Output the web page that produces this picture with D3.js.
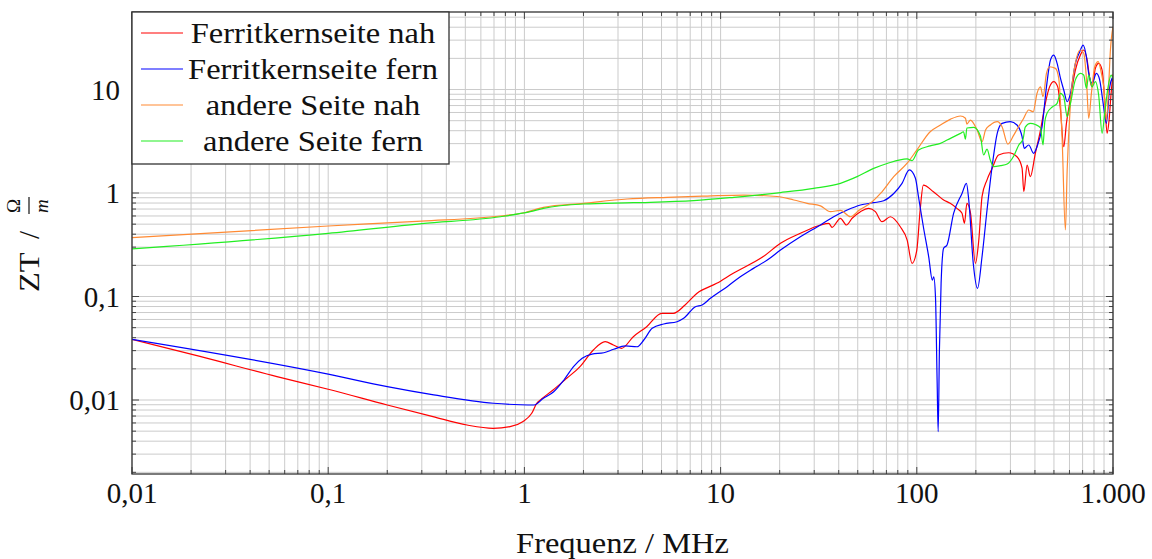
<!DOCTYPE html>
<html lang="de">
<head>
<meta charset="UTF-8">
<title>ZT über Frequenz</title>
<script src="https://d3js.org/d3.v7.min.js"></script>
<style>
  body { margin: 0; background: #fff; }
  svg { display: block; font-family: "Liberation Serif", "Times New Roman", serif; }
  .grid line { stroke: #cbcbcb; stroke-width: 1; }
  .tick-mark { stroke: #444; stroke-width: 1; }
  .curve { fill: none; stroke-width: 1.2; stroke-linejoin: round; }
</style>
</head>
<body>
<svg id="chart" width="1152" height="559"></svg>
<script>
// Frequenz in MHz, ZT in Ohm/m
const ferritNahF = [0.01, 0.0222, 0.0548, 0.1, 0.2, 0.342, 0.51, 0.692, 0.845, 0.98, 1.09, 1.156, 1.19, 1.40, 1.643, 1.92, 2.245, 2.58, 2.84, 3.13, 3.59, 4.2, 5.01, 5.74, 6.59, 7.56, 9.55, 11.6, 16.5, 20.2, 25.5, 32.3, 35.6, 37.0, 40.8, 43.8, 46.8, 51.6, 56.9, 61.5, 66.5, 73.3, 82.4, 89.3, 94.6, 100, 104, 108, 121.5, 137, 148, 160, 170, 175, 180, 187.5, 199, 207, 215, 228, 242, 261, 294, 324, 344, 351, 365, 379, 402, 427, 452, 475, 499, 523, 540, 561, 579, 601, 643, 682, 709, 738, 761, 782, 813, 845, 880, 907, 933, 955, 978, 1000];
const ferritNahZ = [0.0386, 0.0264, 0.0168, 0.0127, 0.00895, 0.0069, 0.00573, 0.00533, 0.00552, 0.00617, 0.00744, 0.00929, 0.0098, 0.0125, 0.0162, 0.021, 0.0304, 0.0366, 0.034, 0.0316, 0.0409, 0.0511, 0.0688, 0.0688, 0.0828, 0.107, 0.134, 0.168, 0.243, 0.327, 0.408, 0.491, 0.509, 0.466, 0.57, 0.491, 0.57, 0.66, 0.711, 0.66, 0.528, 0.59, 0.472, 0.351, 0.209, 0.281, 0.685, 1.19, 1.03, 0.856, 0.795, 0.711, 0.637, 0.51, 0.795, 0.655, 0.209, 0.351, 0.921, 1.34, 1.73, 2.33, 2.45, 2.24, 1.74, 1.03, 1.86, 1.44, 2.42, 4.06, 7.36, 10.6, 11.9, 10.6, 6.34, 2.8, 4.71, 7.36, 15.4, 21.5, 24.1, 19.3, 12.8, 10.6, 16.0, 17.9, 15.4, 7.92, 3.77, 5.07, 9.19, 14];

const ferritFernF = [0.01, 0.1, 0.2, 0.345, 0.695, 0.955, 1.12, 1.25, 1.41, 1.59, 1.78, 1.97, 2.21, 2.54, 2.85, 3.27, 3.75, 4.06, 4.48, 5.13, 6.0, 6.48, 7.44, 8.05, 8.87, 10.8, 12.6, 14.7, 17.3, 20.2, 25.5, 32.3, 37.7, 44.2, 51.6, 60.3, 67.8, 76.3, 84.1, 91.6, 98.4, 102, 108, 115, 120, 122, 124.5, 127, 128.5, 130.4, 133, 137, 142.6, 154, 170, 179, 184, 194, 204, 215, 228, 242, 257, 272, 300, 324, 344, 353, 372, 394, 410, 435, 458, 480, 499, 519, 540, 561, 584, 607, 643, 677, 704, 732, 752, 782, 823, 855, 891, 925, 962, 1000];
const ferritFernZ = [0.0386, 0.0178, 0.01345, 0.0112, 0.0093, 0.0090, 0.00895, 0.01038, 0.0120, 0.0156, 0.021, 0.0253, 0.0278, 0.0286, 0.0309, 0.0333, 0.0327, 0.038, 0.0493, 0.0543, 0.0571, 0.0616, 0.0797, 0.0828, 0.096, 0.1245, 0.1555, 0.187, 0.225, 0.281, 0.378, 0.491, 0.59, 0.685, 0.766, 0.806, 0.843, 0.99, 1.24, 1.67, 1.39, 0.92, 0.472, 0.242, 0.144, 0.155, 0.0995, 0.0145, 0.00494, 0.0304, 0.134, 0.292, 0.315, 0.637, 0.99, 1.24, 0.856, 0.209, 0.12, 0.242, 0.685, 1.8, 3.77, 4.71, 4.89, 4.54, 3.5, 2.7, 2.91, 2.42, 2.8, 4.37, 10.6, 19.3, 21.5, 17.9, 12.8, 9.89, 7.62, 9.19, 17.9, 23.2, 26.9, 20.7, 14.3, 11.5, 14.3, 12.4, 7.36, 4.71, 10.6, 13.3];

const andereNahF = [0.01, 0.1, 0.3, 0.755, 1.0, 1.25, 2.0, 3.34, 5.34, 8.53, 13.1, 19.4, 23.6, 27.6, 32.3, 36.3, 40.8, 45.9, 51, 58, 65.3, 76.3, 89.3, 100, 117, 132, 148, 167, 177, 180, 187.5, 203, 215, 224, 237, 257, 272, 291, 312, 330, 349, 372, 392, 410, 427, 440, 458, 475, 509, 529, 550, 572, 584, 607, 643, 682, 709, 732, 752, 776, 807, 840, 873, 897, 925, 950, 970, 1000];
const andereNahZ = [0.37, 0.48, 0.536, 0.6, 0.645, 0.727, 0.795, 0.875, 0.909, 0.935, 0.956, 0.925, 0.856, 0.795, 0.752, 0.66, 0.68, 0.59, 0.685, 0.795, 0.99, 1.44, 1.94, 2.6, 3.91, 4.54, 5.15, 5.55, 5.27, 4.64, 5.07, 4.06, 3.13, 4.06, 4.54, 4.89, 4.37, 2.97, 3.63, 4.37, 5.19, 6.34, 6.1, 9.19, 10.6, 8.52, 14.3, 16.6, 16.0, 12.8, 3.5, 0.44, 1.67, 7.36, 17.9, 24.1, 22.4, 12.8, 5.27, 9.19, 16.6, 18.6, 14.3, 10.6, 5.07, 10.6, 24.1, 40.4];

const andereFernF = [0.01, 0.1, 0.3, 0.755, 1.07, 1.25, 2.0, 3.59, 7.29, 11.7, 20.2, 29.8, 40.8, 49.6, 60.3, 70.6, 89.3, 94.6, 102, 117, 132, 142.6, 167, 173, 177, 180, 195, 211, 219, 228, 237, 247, 267, 289, 312, 331, 348, 357, 379, 402, 427, 440, 449, 461, 490, 519, 540, 561, 584, 607, 643, 682, 709, 732, 752, 782, 813, 845, 880, 907, 944, 978, 1000];
const andereFernZ = [0.288, 0.408, 0.507, 0.59, 0.66, 0.711, 0.783, 0.806, 0.843, 0.909, 1.01, 1.11, 1.24, 1.44, 1.73, 1.93, 2.14, 2.06, 2.6, 2.85, 3.02, 3.25, 3.77, 3.91, 3.32, 4.25, 4.3, 3.55, 2.33, 2.66, 2.08, 1.8, 1.84, 1.91, 2.28, 2.91, 3.32, 4.34, 4.71, 4.59, 4.25, 2.91, 4.85, 5.89, 6.78, 7.36, 9.19, 8.52, 5.46, 7.36, 12.4, 14.3, 13.8, 10.3, 13.8, 10.6, 11.9, 8.85, 3.77, 5.89, 10.6, 13.8, 12.8];

const seriesNames = ["Ferritkernseite nah", "Ferritkernseite fern", "andere Seite nah", "andere Seite fern"];
const xTickValues = [0.01, 0.1, 1, 10, 100, 1000];
const xTickLabels = ["0,01", "0,1", "1", "10", "100", "1.000"];
const yTickValues = [0.01, 0.1, 1, 10];
const yTickLabels = ["0,01", "0,1", "1", "10"];

const seriesColors = ["#ff0000", "#0000ff", "#ff8a33", "#22ee22"];

const svg = d3.select("#chart");
const plot = { left: 132, right: 1113, top: 12, bottom: 474 };

const x = d3.scaleLog().domain([0.01, 1000]).range([plot.left, plot.right]);
const y = d3.scaleLog().domain([Math.pow(10, -2.715), Math.pow(10, 1.749)]).range([plot.bottom, plot.top]);

// Unterteilungen je Dekade
function logSteps(scale) {
  const [a, b] = scale.domain();
  const out = [];
  for (let e = Math.floor(Math.log10(a)); e <= Math.ceil(Math.log10(b)); e++) {
    for (let m = 1; m < 10; m++) {
      const v = m * Math.pow(10, e);
      if (v >= a * 0.9999 && v <= b * 1.0001) out.push({ v: v, major: m === 1 });
    }
  }
  return out;
}
const xSteps = logSteps(x);
const ySteps = logSteps(y);

// Gitter
const grid = svg.append("g").attr("class", "grid");
grid.selectAll(".gx").data(xSteps).enter().append("line")
  .attr("x1", d => x(d.v)).attr("x2", d => x(d.v))
  .attr("y1", plot.top).attr("y2", plot.bottom);
grid.selectAll(".gy").data(ySteps).enter().append("line")
  .attr("y1", d => y(d.v)).attr("y2", d => y(d.v))
  .attr("x1", plot.left).attr("x2", plot.right);

// Kurven
svg.append("clipPath").attr("id", "clip").append("rect")
  .attr("x", plot.left).attr("y", plot.top)
  .attr("width", plot.right - plot.left).attr("height", plot.bottom - plot.top);

const allSeries = [
  ferritNahF.map((f, i) => [f, ferritNahZ[i]]),
  ferritFernF.map((f, i) => [f, ferritFernZ[i]]),
  andereNahF.map((f, i) => [f, andereNahZ[i]]),
  andereFernF.map((f, i) => [f, andereFernZ[i]])
];

const line = d3.line().x(d => x(d[0])).y(d => y(d[1])).curve(d3.curveMonotoneX);

svg.append("g").attr("clip-path", "url(#clip)")
  .selectAll("path").data(allSeries).enter().append("path")
  .attr("class", "curve")
  .attr("stroke", (d, i) => seriesColors[i])
  .attr("d", line);

// Teilstriche innen an allen vier Seiten
const ticks = svg.append("g");
xSteps.forEach(d => {
  const len = d.major ? 7 : 4;
  ticks.append("line").attr("class", "tick-mark")
    .attr("x1", x(d.v)).attr("x2", x(d.v)).attr("y1", plot.bottom).attr("y2", plot.bottom - len);
  ticks.append("line").attr("class", "tick-mark")
    .attr("x1", x(d.v)).attr("x2", x(d.v)).attr("y1", plot.top).attr("y2", plot.top + len);
});
ySteps.forEach(d => {
  const len = d.major ? 7 : 4;
  ticks.append("line").attr("class", "tick-mark")
    .attr("y1", y(d.v)).attr("y2", y(d.v)).attr("x1", plot.left).attr("x2", plot.left + len);
  ticks.append("line").attr("class", "tick-mark")
    .attr("y1", y(d.v)).attr("y2", y(d.v)).attr("x1", plot.right).attr("x2", plot.right - len);
});

// Rahmen
svg.append("rect")
  .attr("x", plot.left).attr("y", plot.top)
  .attr("width", plot.right - plot.left).attr("height", plot.bottom - plot.top)
  .attr("fill", "none").attr("stroke", "#333").attr("stroke-width", 1.3);

// Beschriftung der Achsen
svg.selectAll(".xl").data(xTickValues).enter().append("text")
  .attr("x", d => x(d)).attr("y", plot.bottom + 29)
  .attr("text-anchor", "middle").attr("font-size", 29).attr("fill", "#111")
  .text((d, i) => xTickLabels[i]);

svg.selectAll(".yl").data(yTickValues).enter().append("text")
  .attr("x", plot.left - 12).attr("y", d => y(d) + 10)
  .attr("text-anchor", "end").attr("font-size", 29).attr("fill", "#111")
  .text((d, i) => yTickLabels[i]);

// breitere Schrift nachbilden
function widen(sel) {
  sel.each(function () {
    const w = this.getComputedTextLength();
    d3.select(this).attr("textLength", w * 1.12).attr("lengthAdjust", "spacingAndGlyphs");
  });
}

svg.append("text")
  .attr("x", (plot.left + plot.right) / 2).attr("y", 553)
  .attr("text-anchor", "middle").attr("font-size", 29).attr("fill", "#111")
  .text("Frequenz / MHz").call(widen);

const yLab = svg.append("g").attr("transform", "translate(39,292) rotate(-90)").attr("fill", "#111");
yLab.append("text").attr("x", 0).attr("y", 0).attr("font-size", 29).text("ZT").call(widen);
yLab.append("text").attr("x", 57).attr("y", 0).attr("font-size", 29).attr("text-anchor", "middle").text("/");
yLab.append("text").attr("x", 86).attr("y", -19).attr("font-size", 19).attr("text-anchor", "middle").text("Ω");
yLab.append("line").attr("x1", 78).attr("x2", 95).attr("y1", -10).attr("y2", -10)
  .attr("stroke", "#111").attr("stroke-width", 1.2);
yLab.append("text").attr("x", 86).attr("y", 9).attr("font-size", 19).attr("font-style", "italic")
  .attr("text-anchor", "middle").text("m");

// Legende
const legend = svg.append("g");
legend.append("rect")
  .attr("x", plot.left).attr("y", plot.top).attr("width", 317).attr("height", 152)
  .attr("fill", "#fff").attr("stroke", "#333").attr("stroke-width", 1.3);
seriesNames.forEach((name, i) => {
  const ly = 33 + i * 36;
  legend.append("line")
    .attr("x1", 141).attr("x2", 183).attr("y1", ly).attr("y2", ly)
    .attr("stroke", seriesColors[i]).attr("stroke-width", 1.2);
  legend.append("text")
    .attr("x", 313).attr("y", ly + 10).attr("text-anchor", "middle")
    .attr("font-size", 29).attr("fill", "#111").text(name).call(widen);
});
</script>
</body>
</html>
